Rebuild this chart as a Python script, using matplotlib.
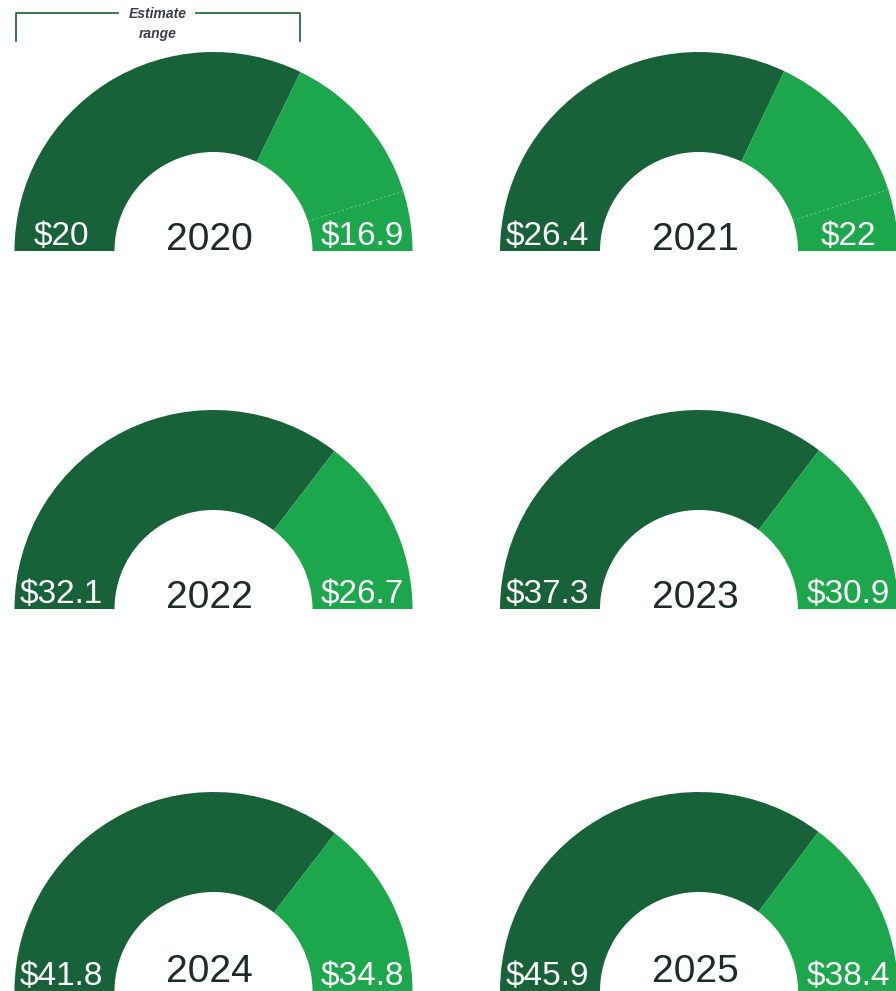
import matplotlib
matplotlib.use("Agg")
import matplotlib.pyplot as plt
from matplotlib.patches import Wedge
import numpy as np

# estimate range per year (US$)
years = ['2020', '2021', '2022', '2023', '2024', '2025']
high = [20, 26.4, 32.1, 37.3, 41.8, 45.9]
low = [16.9, 22, 26.7, 30.9, 34.8, 38.4]
# share of the half ring filled in dark green
dark_share = [0.644, 0.641, 0.708, 0.706, 0.709, 0.705]
# faint dotted marker inside the light part (only first two years)
marker_share = [0.903, 0.90, None, None, None, None]

dark = '#18623a'
light = '#1ca74c'
txt = '#1f2b28'

plt.rcParams['font.family'] = ['Liberation Sans', 'DejaVu Sans']

fig = plt.figure(figsize=(8.96, 9.91), dpi=100)
ax = fig.add_axes([0, 0, 1, 1])
ax.set_xlim(0, 896)
ax.set_ylim(0, 991)
ax.axis('off')

cx = [213.5, 699]
cy = [740, 382, 0]
r_out, r_in = 199, 99

for i, yr in enumerate(years):
    x0 = cx[i % 2]
    y0 = cy[i // 2]
    split = 180 - dark_share[i] * 180
    ax.add_patch(Wedge((x0, y0), r_out, split, 180, width=r_out - r_in,
                       facecolor=dark, edgecolor='none'))
    ax.add_patch(Wedge((x0, y0), r_out, 0, split, width=r_out - r_in,
                       facecolor=light, edgecolor='none'))
    if marker_share[i] is not None:
        a = np.radians(180 - marker_share[i] * 180)
        ax.plot([x0 + r_in * np.cos(a), x0 + r_out * np.cos(a)],
                [y0 + r_in * np.sin(a), y0 + r_out * np.sin(a)],
                color='#6fd18f', lw=0.8, ls=(0, (2, 2)), alpha=0.8)
    mid = (r_out + r_in) / 2
    ax.text(x0 - mid - 3, y0 + 6, f"${high[i]:g}", color='white', fontsize=24,
            ha='center', va='baseline')
    ax.text(x0 + mid, y0 + 6, f"${low[i]:g}", color='white', fontsize=24,
            ha='center', va='baseline')
    if y0 > 0:
        ax.text(x0 - 4, y0 + 1, yr, color=txt, fontsize=28,
                ha='center', va='baseline')
    else:
        # bottom row sits on the figure edge, keep the year inside
        ax.text(x0 - 4, 0.5, yr, color=txt, fontsize=28,
                ha='center', va='bottom')

# "Estimate range" bracket over the first gauge
bc = '#1d5c35'
ax.plot([16, 16, 118], [950, 978, 978], color=bc, lw=1.2)
ax.plot([196, 300, 300], [978, 978, 950], color=bc, lw=1.2)
ax.text(158, 977, 'Estimate', color='#3a3f45', fontsize=10, style='italic',
        weight='bold', ha='center', va='center')
ax.text(158, 957, 'range', color='#3a3f45', fontsize=10, style='italic',
        weight='bold', ha='center', va='center')

fig.savefig('out.png', dpi=100)
